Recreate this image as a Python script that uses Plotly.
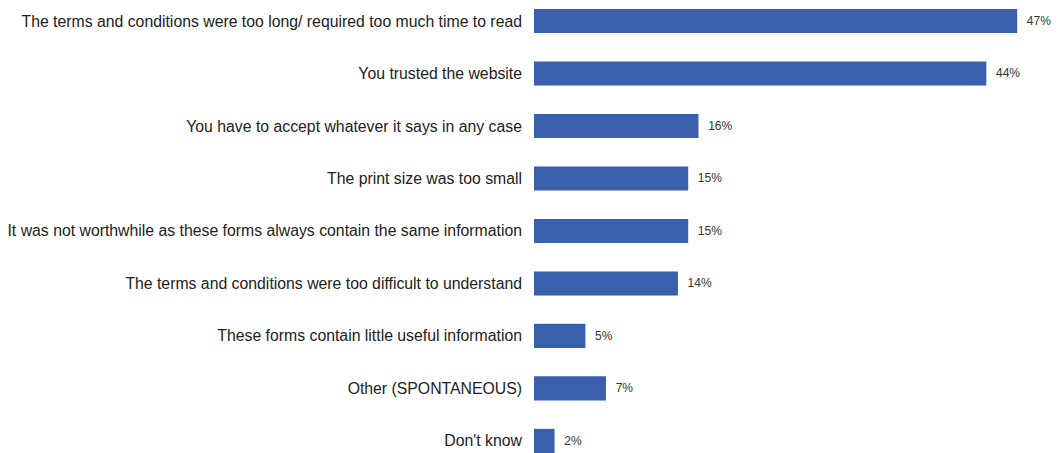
import plotly.graph_objects as go

# Reasons for not reading terms and conditions
reasons = [
    "The terms and conditions were too long/ required too much time to read",
    "You trusted the website",
    "You have to accept whatever it says in any case",
    "The print size was too small",
    "It was not worthwhile as these forms always contain the same information",
    "The terms and conditions were too difficult to understand",
    "These forms contain little useful information",
    "Other (SPONTANEOUS)",
    "Don't know",
]
values = [47, 44, 16, 15, 15, 14, 5, 7, 2]
value_labels = [f"\u00a0\u00a0{v}%" for v in values]

font_name = "Liberation Sans, Arial, sans-serif"

fig = go.Figure()
fig.add_trace(go.Bar(
    x=values,
    y=reasons,
    orientation="h",
    marker=dict(color="#3a5fad", line=dict(width=0)),
    width=0.46,
    text=value_labels,
    textposition="outside",
    textfont=dict(family=font_name, size=12, color="#333333"),
    cliponaxis=False,
))

fig.update_layout(
    width=1057,
    height=453,
    margin=dict(l=534, r=9, t=0, b=0),
    paper_bgcolor="white",
    plot_bgcolor="white",
    showlegend=False,
    font=dict(family=font_name, size=15.8, color="#222222"),
    xaxis=dict(range=[0, 50], visible=False, automargin=False),
    yaxis=dict(
        categoryorder="array",
        categoryarray=reasons,
        range=[8.23, -0.4],
        showgrid=False,
        showline=False,
        ticks="",
        automargin=False,
        ticklabelstandoff=11,
        tickfont=dict(family=font_name, size=15.8, color="#222222"),
    ),
)

# drop the default page margin so the chart sits at the window's corner
fig.write_html(
    "out.html",
    config={"displayModeBar": False},
    post_script="document.body.style.margin='0';",
)
